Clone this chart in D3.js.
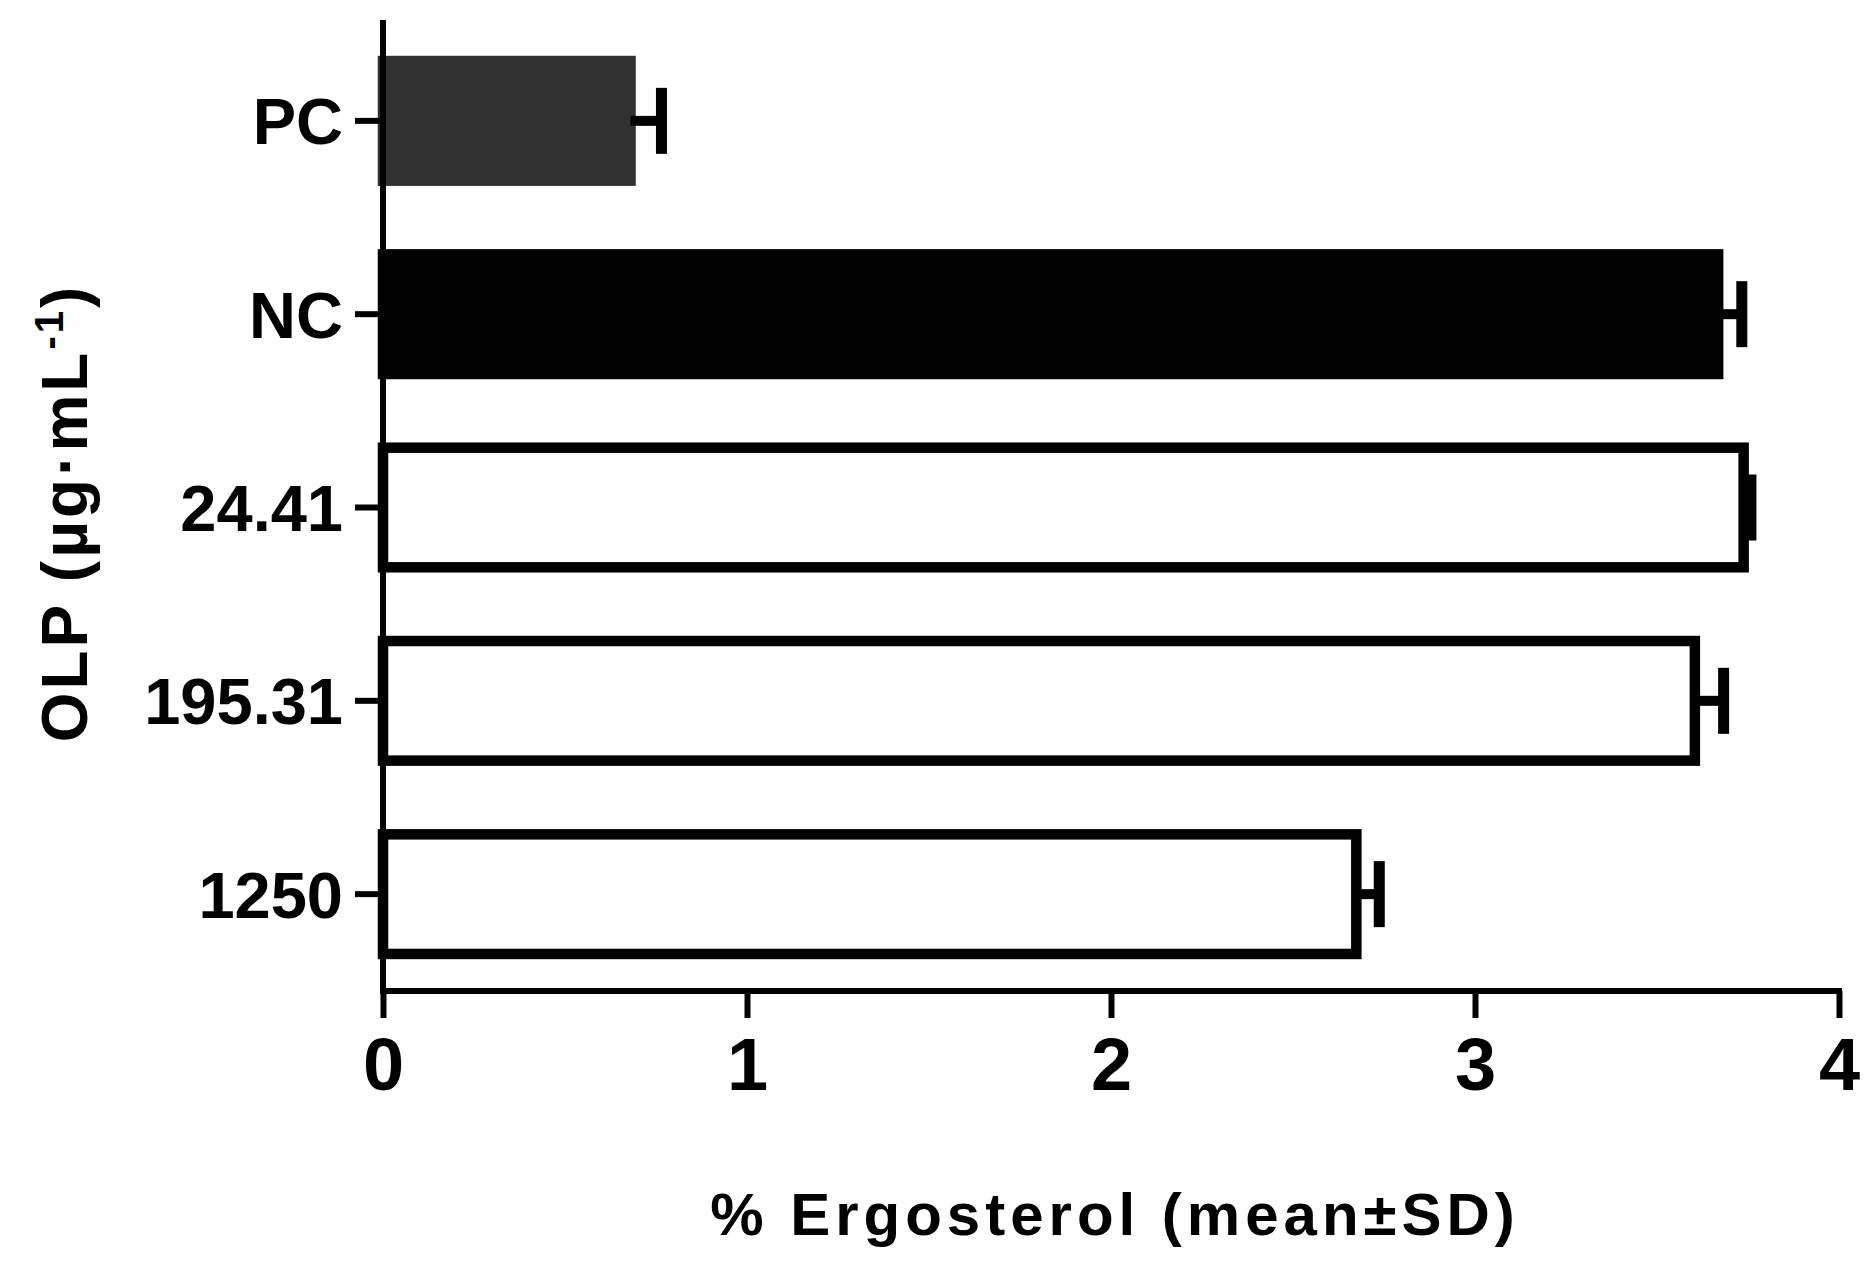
<!DOCTYPE html>
<html>
<head>
<meta charset="utf-8">
<script src="https://cdn.jsdelivr.net/npm/d3@7"></script>
<style>
  body { margin: 0; background: #fff; }
  svg text { font-family: "Liberation Sans", Arial, sans-serif; font-weight: bold; fill: #000; }
</style>
</head>
<body>
<div id="chart"></div>
<script>
// chart data
var categories = ["PC", "NC", "24.41", "195.31", "1250"];
var means = [0.68, 3.668, 3.738, 3.604, 2.674];
var sds = [0.085, 0.065, 0.02, 0.079, 0.063];
var fills = ["#303030", "#000000", "#ffffff", "#ffffff", "#ffffff"];
var strokes = ["#303030", "#000000", "#000000", "#000000", "#000000"];
var xTicks = [0, 1, 2, 3, 4];

var width = 1873;
var height = 1273;

var svg = d3.select("#chart")
  .append("svg")
  .attr("width", width)
  .attr("height", height);

// scales
var x = d3.scaleLinear().domain([0, 4]).range([383, 1839]);
var y = d3.scaleBand()
  .domain(categories)
  .range([21, 994])
  .paddingInner(0.327)
  .paddingOuter(0.18);

var axisY = 991; // where the x axis sits
var barStroke = 10.5;

var rows = categories.map(function(c, i) {
  return { cat: c, mean: means[i], sd: sds[i], fill: fills[i], stroke: strokes[i] };
});

// bars
svg.selectAll("rect.bar")
  .data(rows)
  .enter()
  .append("rect")
  .attr("class", "bar")
  .attr("x", x(0))
  .attr("y", function(d) { return y(d.cat) + barStroke / 2; })
  .attr("width", function(d) { return x(d.mean) - x(0); })
  .attr("height", y.bandwidth() - barStroke)
  .style("fill", function(d) { return d.fill; })
  .style("stroke", function(d) { return d.stroke; })
  .style("stroke-width", barStroke);

// error bars (upper side only)
var err = svg.selectAll("g.err")
  .data(rows)
  .enter()
  .append("g")
  .attr("class", "err");

err.append("line")
  .attr("x1", function(d) { return x(d.mean); })
  .attr("x2", function(d) { return x(d.mean + d.sd); })
  .attr("y1", function(d) { return y(d.cat) + y.bandwidth() / 2; })
  .attr("y2", function(d) { return y(d.cat) + y.bandwidth() / 2; })
  .style("stroke", "#000")
  .style("stroke-width", 10);

err.append("line")
  .attr("x1", function(d) { return x(d.mean + d.sd); })
  .attr("x2", function(d) { return x(d.mean + d.sd); })
  .attr("y1", function(d) { return y(d.cat) + y.bandwidth() / 2 - 33; })
  .attr("y2", function(d) { return y(d.cat) + y.bandwidth() / 2 + 33; })
  .style("stroke", "#000")
  .style("stroke-width", 11);

// x axis
var gx = svg.append("g")
  .attr("transform", "translate(0," + axisY + ")")
  .call(d3.axisBottom(x).tickValues(xTicks).tickFormat(d3.format("d")).tickSize(27).tickSizeOuter(0));
gx.select(".domain").remove();
gx.selectAll(".tick line").style("stroke", "#000").style("stroke-width", 6);
gx.selectAll(".tick text")
  .attr("y", 99)
  .attr("dy", 0)
  .style("font-size", "74px");
gx.append("line")
  .attr("x1", x(0) - 3).attr("x2", x(4) + 3)
  .attr("y1", 0).attr("y2", 0)
  .style("stroke", "#000").style("stroke-width", 6);

// y axis
var gy = svg.append("g")
  .attr("transform", "translate(" + x(0) + ",0)")
  .call(d3.axisLeft(y).tickSize(28).tickSizeOuter(0).tickPadding(12));
gy.select(".domain").remove();
gy.selectAll(".tick line").style("stroke", "#000").style("stroke-width", 6);
gy.selectAll(".tick text")
  .attr("dy", "0.36em")
  .style("font-size", "65px");
gy.append("line")
  .attr("x1", 0).attr("x2", 0)
  .attr("y1", 20).attr("y2", axisY + 3)
  .style("stroke", "#000").style("stroke-width", 6);

// axis titles
svg.append("text")
  .attr("x", (x(0) + x(4)) / 2 + 4)
  .attr("y", 1235)
  .attr("text-anchor", "middle")
  .style("font-size", "60px")
  .style("letter-spacing", "5px")
  .text("% Ergosterol (mean\u00b1SD)");

var yTitle = svg.append("text")
  .attr("transform", "translate(87,513) rotate(-90)")
  .attr("text-anchor", "middle")
  .style("font-size", "64px")
  .style("letter-spacing", "3px");
yTitle.append("tspan").text("OLP (\u00b5g\u00b7mL");
yTitle.append("tspan").attr("dy", -24).style("font-size", "40px").text("-1");
yTitle.append("tspan").attr("dy", 24).text(")");
</script>
</body>
</html>
